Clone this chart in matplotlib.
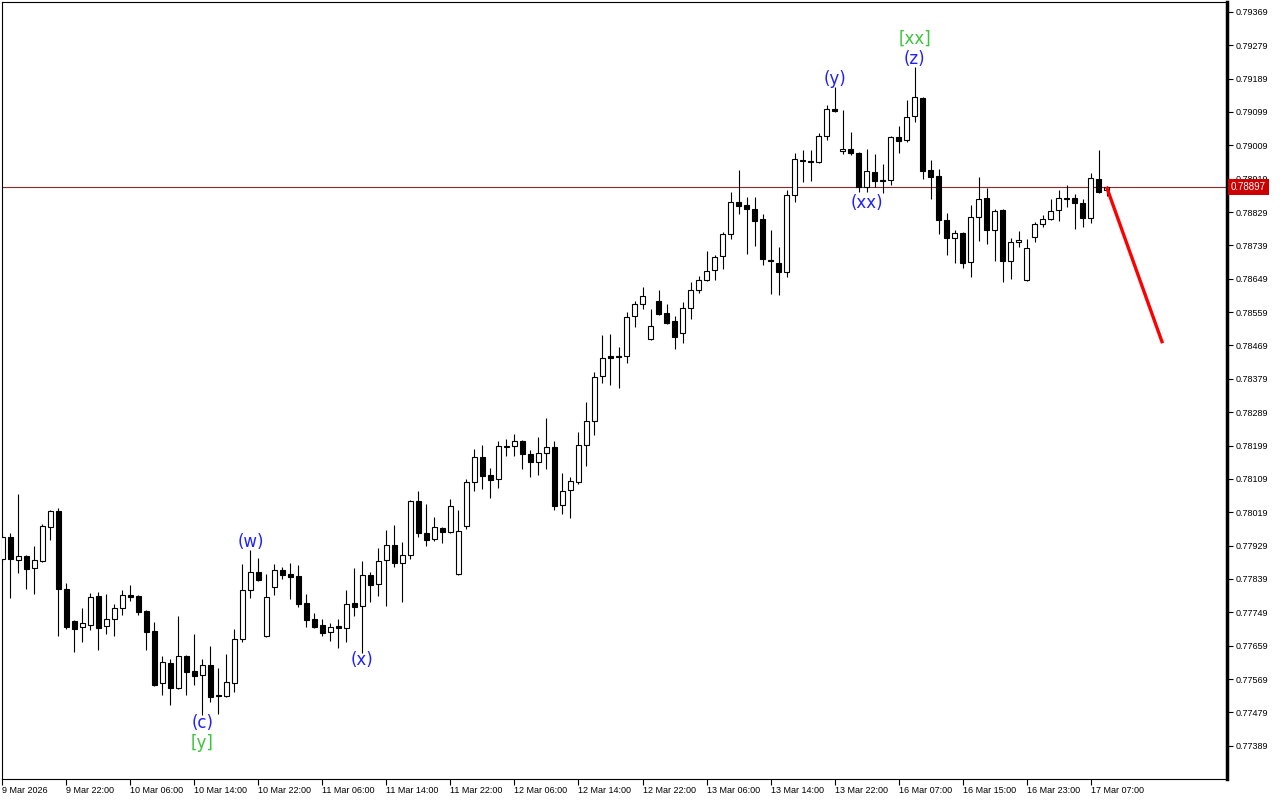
import matplotlib

matplotlib.use("Agg")
import matplotlib.pyplot as plt
import matplotlib.transforms as mtransforms

# hourly candles
opens = [
    0.77893, 0.77952, 0.77890, 0.77901, 0.77868, 0.77887, 0.77979, 0.78022, 0.77812, 0.77725,
    0.77709, 0.77715, 0.77793, 0.77712, 0.77731, 0.77761, 0.77796, 0.77793, 0.77752, 0.77699,
    0.77558, 0.77612, 0.77545, 0.77631, 0.77591, 0.77580, 0.77607, 0.77526, 0.77523, 0.77558,
    0.77677, 0.77809, 0.77858, 0.77685, 0.77817, 0.77863, 0.77852, 0.77847, 0.77774, 0.77731,
    0.77715, 0.77696, 0.77712, 0.77707, 0.77774, 0.77766, 0.77850, 0.77825, 0.77890, 0.77931,
    0.77882, 0.77904, 0.78049, 0.77963, 0.77947, 0.77977, 0.77966, 0.77852, 0.77982, 0.78101,
    0.78168, 0.78119, 0.78109, 0.78195, 0.78198, 0.78211, 0.78176, 0.78155, 0.78179, 0.78195,
    0.78038, 0.78079, 0.78101, 0.78200, 0.78265, 0.78387, 0.78440, 0.78440, 0.78440, 0.78548,
    0.78581, 0.78486, 0.78589, 0.78556, 0.78535, 0.78503, 0.78570, 0.78619, 0.78646, 0.78673,
    0.78710, 0.78770, 0.78856, 0.78848, 0.78837, 0.78810, 0.78700, 0.78691, 0.78667, 0.78875,
    0.78969, 0.78967, 0.78964, 0.79034, 0.79107, 0.78994, 0.78999, 0.78988, 0.78896, 0.78937,
    0.78915, 0.78915, 0.79031, 0.79023, 0.79088, 0.79137, 0.78942, 0.78926, 0.78807, 0.78759,
    0.78772, 0.78694, 0.78815, 0.78867, 0.78781, 0.78834, 0.78697, 0.78748, 0.78646, 0.78762,
    0.78797, 0.78810, 0.78834, 0.78867, 0.78867, 0.78853, 0.78813, 0.78918, 0.78888,
]
highs = [
    0.77963, 0.77963, 0.78068, 0.77904, 0.77928, 0.77987, 0.78025, 0.78030, 0.77828, 0.77728,
    0.77761, 0.77801, 0.77804, 0.77798, 0.77771, 0.77809, 0.77823, 0.77795, 0.77754, 0.77723,
    0.77631, 0.77623, 0.77739, 0.77634, 0.77690, 0.77623, 0.77658, 0.77599, 0.77636, 0.77704,
    0.77879, 0.77917, 0.77896, 0.77852, 0.77879, 0.77871, 0.77882, 0.77877, 0.77798, 0.77747,
    0.77731, 0.77720, 0.77731, 0.77809, 0.77868, 0.77887, 0.77858, 0.77922, 0.77971, 0.77984,
    0.77939, 0.78052, 0.78076, 0.78041, 0.78006, 0.77979, 0.78055, 0.78025, 0.78109, 0.78190,
    0.78200, 0.78138, 0.78211, 0.78217, 0.78230, 0.78213, 0.78187, 0.78222, 0.78273, 0.78211,
    0.78125, 0.78114, 0.78235, 0.78316, 0.78397, 0.78497, 0.78500, 0.78465, 0.78559, 0.78589,
    0.78627, 0.78567, 0.78619, 0.78581, 0.78548, 0.78586, 0.78640, 0.78656, 0.78724, 0.78713,
    0.78775, 0.78883, 0.78942, 0.78870, 0.78870, 0.78824, 0.78781, 0.78735, 0.78888, 0.78988,
    0.78996, 0.78996, 0.79042, 0.79118, 0.79166, 0.79104, 0.79045, 0.78990, 0.78999, 0.78985,
    0.78958, 0.79033, 0.79061, 0.79131, 0.79220, 0.79139, 0.78969, 0.78945, 0.78826, 0.78781,
    0.78774, 0.78848, 0.78924, 0.78894, 0.78837, 0.78836, 0.78759, 0.78778, 0.78756, 0.78802,
    0.78821, 0.78864, 0.78888, 0.78902, 0.78878, 0.78864, 0.78934, 0.78996, 0.78899,
]
lows = [
    0.77885, 0.77788, 0.77855, 0.77812, 0.77798, 0.77885, 0.77944, 0.77685, 0.77704, 0.77642,
    0.77669, 0.77701, 0.77647, 0.77690, 0.77685, 0.77742, 0.77780, 0.77742, 0.77647, 0.77550,
    0.77526, 0.77499, 0.77543, 0.77526, 0.77553, 0.77472, 0.77507, 0.77475, 0.77521, 0.77534,
    0.77669, 0.77788, 0.77834, 0.77683, 0.77796, 0.77839, 0.77785, 0.77763, 0.77709, 0.77707,
    0.77685, 0.77672, 0.77653, 0.77669, 0.77739, 0.77639, 0.77777, 0.77793, 0.77766, 0.77871,
    0.77777, 0.77893, 0.77952, 0.77928, 0.77941, 0.77936, 0.77964, 0.77850, 0.77974, 0.78076,
    0.78082, 0.78057, 0.78084, 0.78171, 0.78171, 0.78136, 0.78114, 0.78119, 0.78136, 0.78025,
    0.78014, 0.78003, 0.78095, 0.78144, 0.78227, 0.78368, 0.78362, 0.78354, 0.78422, 0.78519,
    0.78567, 0.78484, 0.78551, 0.78527, 0.78459, 0.78476, 0.78540, 0.78611, 0.78644, 0.78646,
    0.78675, 0.78756, 0.78824, 0.78716, 0.78737, 0.78686, 0.78608, 0.78605, 0.78654, 0.78856,
    0.78910, 0.78913, 0.78962, 0.79023, 0.79099, 0.78985, 0.78983, 0.78883, 0.78883, 0.78896,
    0.78880, 0.78902, 0.78988, 0.79018, 0.79072, 0.78918, 0.78864, 0.78770, 0.78713, 0.78691,
    0.78678, 0.78654, 0.78751, 0.78743, 0.78697, 0.78640, 0.78648, 0.78735, 0.78644, 0.78748,
    0.78789, 0.78808, 0.78805, 0.78843, 0.78783, 0.78789, 0.78799, 0.78880, 0.78872,
]
closes = [
    0.77952, 0.77893, 0.77901, 0.77866, 0.77890, 0.77982, 0.78022, 0.77812, 0.77709, 0.77704,
    0.77720, 0.77790, 0.77707, 0.77731, 0.77761, 0.77796, 0.77790, 0.77750, 0.77696, 0.77553,
    0.77615, 0.77545, 0.77631, 0.77588, 0.77577, 0.77607, 0.77520, 0.77523, 0.77561, 0.77677,
    0.77809, 0.77858, 0.77836, 0.77790, 0.77863, 0.77850, 0.77844, 0.77771, 0.77728, 0.77709,
    0.77693, 0.77709, 0.77707, 0.77771, 0.77763, 0.77850, 0.77823, 0.77887, 0.77931, 0.77882,
    0.77904, 0.78049, 0.77963, 0.77944, 0.77979, 0.77966, 0.78036, 0.77968, 0.78101, 0.78168,
    0.78117, 0.78106, 0.78198, 0.78198, 0.78211, 0.78176, 0.78155, 0.78179, 0.78195, 0.78036,
    0.78076, 0.78103, 0.78200, 0.78265, 0.78384, 0.78435, 0.78436, 0.78437, 0.78546, 0.78581,
    0.78602, 0.78521, 0.78554, 0.78529, 0.78492, 0.78570, 0.78619, 0.78646, 0.78670, 0.78708,
    0.78770, 0.78856, 0.78845, 0.78837, 0.78805, 0.78702, 0.78697, 0.78667, 0.78875, 0.78972,
    0.78967, 0.78964, 0.79034, 0.79107, 0.79101, 0.78999, 0.78988, 0.78896, 0.78940, 0.78913,
    0.78913, 0.79031, 0.79021, 0.79085, 0.79139, 0.78940, 0.78924, 0.78807, 0.78759, 0.78772,
    0.78691, 0.78815, 0.78864, 0.78781, 0.78832, 0.78697, 0.78748, 0.78754, 0.78732, 0.78797,
    0.78810, 0.78832, 0.78867, 0.78864, 0.78853, 0.78813, 0.78921, 0.78883, 0.78897,
]

time_labels = [
    "9 Mar 2026", "9 Mar 22:00", "10 Mar 06:00", "10 Mar 14:00", "10 Mar 22:00",
    "11 Mar 06:00", "11 Mar 14:00", "11 Mar 22:00", "12 Mar 06:00", "12 Mar 14:00",
    "12 Mar 22:00", "13 Mar 06:00", "13 Mar 14:00", "13 Mar 22:00", "16 Mar 07:00",
    "16 Mar 15:00", "16 Mar 23:00", "17 Mar 07:00",
]
price_ticks = [
    0.77389, 0.77479, 0.77569, 0.77659, 0.77749, 0.77839, 0.77929, 0.78019, 0.78109,
    0.78199, 0.78289, 0.78379, 0.78469, 0.78559, 0.78649, 0.78739, 0.78829, 0.78919,
    0.79009, 0.79099, 0.79189, 0.79279, 0.79369,
]
current_price = 0.78897

# wave labels: text, candle index, price, colour
wave_text = ["(c)", "[y]", "(w)", "(x)", "(y)", "(xx)", "(z)", "[xx]"]
wave_bar = [25, 25, 31, 45, 104, 108, 114, 114]
wave_price = [0.77450, 0.77396, 0.77939, 0.77620, 0.79188, 0.78853, 0.79242, 0.79296]
wave_kind = ["minor", "major", "minor", "minor", "minor", "minor", "minor", "major"]

# projected move
forecast_bars = [138, 145]
forecast_prices = [0.78897, 0.78475]

BLUE = "#1f1fff"
GREEN = "#3cc43c"

plt.rcParams["font.family"] = ["Liberation Sans", "DejaVu Sans"]

fig = plt.figure(figsize=(12.8, 8), dpi=100)
ax = fig.add_axes([2 / 1280, 21 / 800, 1225 / 1280, 777 / 800])

n = len(opens)
idx = list(range(n))
ax.vlines(idx, lows, highs, color="black", linewidth=0.8, zorder=2)
bottoms = [min(o, c) for o, c in zip(opens, closes)]
heights = [max(abs(c - o), 0.00002) for o, c in zip(opens, closes)]
faces = ["white" if c > o else "black" for o, c in zip(opens, closes)]
ax.bar(idx, heights, bottom=bottoms, width=0.6, color=faces,
       edgecolor="black", linewidth=0.8, zorder=3)

ax.axhline(current_price, color="#8a2a2a", linewidth=0.8, zorder=1)
ax.plot(forecast_bars, forecast_prices, color="#ff0000", linewidth=2.4,
        solid_capstyle="butt", zorder=4)

for text, bar, price, kind in zip(wave_text, wave_bar, wave_price, wave_kind):
    ax.text(bar, price, text, color=BLUE if kind == "minor" else GREEN,
            fontsize=12, family="DejaVu Sans", ha="center", va="center", zorder=5)

ax.set_xlim(-0.06, 153.06)
ax.set_ylim(0.772993, 0.793956)

ax.set_xticks(range(0, 8 * len(time_labels), 8))
ax.set_xticklabels(time_labels, ha="left")
ax.yaxis.tick_right()
ax.set_yticks(price_ticks)
ax.set_yticklabels([f"{p:.5f}" for p in price_ticks])
ax.tick_params(axis="both", direction="out", length=4, width=0.8,
               labelsize=6.5, pad=2, color="black")
ax.tick_params(axis="x", pad=1)

for side in ("left", "top", "bottom"):
    ax.spines[side].set_linewidth(0.8)
ax.spines["right"].set_linewidth(2.5)

# price tag on the right axis
trans = mtransforms.blended_transform_factory(ax.transAxes, ax.transData)
ax.text(1.003, current_price, f"{current_price:.5f}", transform=trans,
        fontsize=7, color="white", ha="left", va="center", zorder=6,
        bbox=dict(boxstyle="square,pad=0.3", facecolor="#cc0000", edgecolor="none"),
        clip_on=False)

fig.savefig("out.png", dpi=100)
plt.close(fig)
